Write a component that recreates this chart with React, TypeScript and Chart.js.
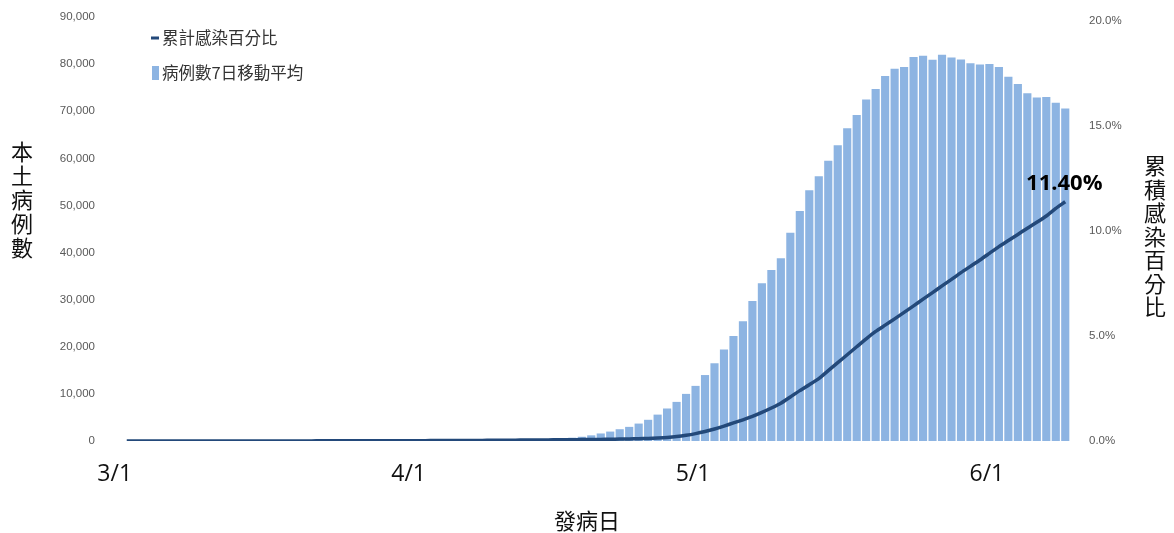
import React, { useEffect, useRef } from 'react';
import { Chart, registerables } from 'chart.js';

Chart.register(...registerables);

// ---- data ----
const dates = [
  '3/1','3/2','3/3','3/4','3/5','3/6','3/7','3/8','3/9','3/10',
  '3/11','3/12','3/13','3/14','3/15','3/16','3/17','3/18','3/19','3/20',
  '3/21','3/22','3/23','3/24','3/25','3/26','3/27','3/28','3/29','3/30','3/31',
  '4/1','4/2','4/3','4/4','4/5','4/6','4/7','4/8','4/9','4/10',
  '4/11','4/12','4/13','4/14','4/15','4/16','4/17','4/18','4/19','4/20',
  '4/21','4/22','4/23','4/24','4/25','4/26','4/27','4/28','4/29','4/30',
  '5/1','5/2','5/3','5/4','5/5','5/6','5/7','5/8','5/9','5/10',
  '5/11','5/12','5/13','5/14','5/15','5/16','5/17','5/18','5/19','5/20',
  '5/21','5/22','5/23','5/24','5/25','5/26','5/27','5/28','5/29','5/30','5/31',
  '6/1','6/2','6/3','6/4','6/5','6/6','6/7','6/8',
];

// 病例數7日移動平均 (cases)
const casesMA7 = [
  3, 4, 4, 5, 5, 6, 6, 7, 8, 8,
  9, 10, 11, 12, 14, 15, 17, 19, 21, 24,
  27, 30, 34, 38, 42, 47, 52, 58, 65, 72,
  80, 90, 100, 112, 125, 140, 160, 185, 215, 250,
  280, 310, 340, 370, 400, 500, 600, 700, 900, 1200,
  1600, 2000, 2500, 3000, 3700, 4500, 5600, 6900, 8300, 10000,
  11700, 14000, 16500, 19400, 22300, 25400, 29700, 33500, 36300, 38800,
  44200, 48800, 53200, 56200, 59500, 62800, 66400, 69200, 72500, 74700,
  77500, 79000, 79400, 81500, 81800, 80900, 82000, 81400, 81000, 80200,
  79900, 80000, 79400, 77300, 75800, 73800, 72900, 73000, 71800, 70600,
];

// 累計感染百分比 (%)
const cumulativePct = [
  0.000, 0.000, 0.000, 0.001, 0.001, 0.001, 0.001, 0.001, 0.001, 0.002,
  0.002, 0.002, 0.002, 0.003, 0.003, 0.003, 0.004, 0.004, 0.005, 0.005,
  0.006, 0.006, 0.007, 0.008, 0.009, 0.010, 0.011, 0.012, 0.013, 0.014,
  0.015, 0.017, 0.018, 0.020, 0.022, 0.024, 0.026, 0.028, 0.031, 0.034,
  0.037, 0.040, 0.044, 0.048, 0.052, 0.055, 0.058, 0.062, 0.066, 0.070,
  0.075, 0.082, 0.090, 0.100, 0.110, 0.125, 0.145, 0.170, 0.210, 0.270,
  0.350, 0.450, 0.570, 0.710, 0.860, 1.010, 1.170, 1.360, 1.570, 1.800,
  2.100, 2.400, 2.680, 2.970, 3.350, 3.730, 4.110, 4.490, 4.870, 5.220,
  5.520, 5.820, 6.130, 6.440, 6.760, 7.070, 7.390, 7.700, 8.020, 8.320,
  8.620, 8.940, 9.260, 9.550, 9.840, 10.140, 10.420, 10.720, 11.080, 11.400,
];

const leftTickValues = [0, 10000, 20000, 30000, 40000, 50000, 60000, 70000, 80000, 90000];
const rightTickValues = [0, 5, 10, 15, 20];
const xTickDates = ['3/1', '4/1', '5/1', '6/1'];
const lastValueLabel = '11.40%';

const lineLegend = '累計感染百分比';
const barLegend = '病例數7日移動平均';
const leftTitle = '本土病例數';
const rightTitle = '累積感染百分比';
const xTitle = '發病日';

const BAR_COLOR = '#8DB4E2';
const LINE_COLOR = '#23497A';
const CJK = '"Noto Sans CJK TC", "Noto Sans", sans-serif';

const overlayPlugin = {
  id: 'overlayTexts',
  afterDraw(chart: any) {
    const ctx = chart.ctx as CanvasRenderingContext2D;
    ctx.save();

    // legend
    ctx.fillStyle = LINE_COLOR;
    ctx.fillRect(151, 36.5, 8, 3);
    ctx.fillStyle = BAR_COLOR;
    ctx.fillRect(152, 66, 7, 14);
    ctx.fillStyle = '#333333';
    ctx.font = `16.5px ${CJK}`;
    ctx.textAlign = 'left';
    ctx.textBaseline = 'middle';
    ctx.fillText(lineLegend, 162, 38);
    ctx.fillText(barLegend, 162, 73);

    // vertical axis titles
    ctx.fillStyle = '#111111';
    ctx.font = `22px ${CJK}`;
    ctx.textAlign = 'center';
    ctx.textBaseline = 'middle';
    Array.from(leftTitle).forEach((ch, k) => ctx.fillText(ch, 22, 152 + k * 23.8));
    Array.from(rightTitle).forEach((ch, k) => ctx.fillText(ch, 1155, 166 + k * 23.5));

    // x title
    ctx.fillText(xTitle, 587, 521);

    // last value label
    const meta = chart.getDatasetMeta(1);
    const pt = meta.data[meta.data.length - 1];
    if (pt) {
      ctx.font = 'bold 22px "Open Sans", "DejaVu Sans", sans-serif';
      ctx.textBaseline = 'alphabetic';
      ctx.fillStyle = '#000000';
      ctx.fillText(lastValueLabel, pt.x - 1, pt.y - 12);
    }
    ctx.restore();
  },
};

export default function App() {
  const ref = useRef<HTMLCanvasElement | null>(null);

  useEffect(() => {
    document.body.style.margin = '0';
    document.body.style.overflow = 'hidden';
    const canvas = ref.current;
    if (!canvas) return;

    const tickFont = { family: '"Liberation Sans", Arial, sans-serif', size: 11.5 };

    const chart = new Chart(canvas, {
      type: 'bar',
      data: {
        labels: dates,
        datasets: [
          {
            type: 'bar',
            label: barLegend,
            data: casesMA7,
            backgroundColor: BAR_COLOR,
            borderWidth: 0,
            barPercentage: 0.86,
            categoryPercentage: 1,
            yAxisID: 'y',
            order: 2,
          },
          {
            type: 'line',
            label: lineLegend,
            data: cumulativePct,
            borderColor: LINE_COLOR,
            borderWidth: 3.5,
            pointRadius: 0,
            tension: 0.2,
            fill: false,
            yAxisID: 'y1',
            order: 1,
          } as any,
        ],
      },
      options: {
        responsive: false,
        animation: false,
        layout: { padding: { top: 17, left: 0, right: 0, bottom: 0 } },
        plugins: {
          legend: { display: false },
          tooltip: { enabled: false },
        },
        scales: {
          x: {
            grid: { display: false, drawTicks: false },
            border: { display: false },
            ticks: {
              autoSkip: false,
              maxRotation: 0,
              minRotation: 0,
              padding: 20,
              labelOffset: -12,
              color: '#111111',
              font: { family: '"Open Sans", "Noto Sans", sans-serif', size: 23 },
              callback: (_v: any, i: number) => (xTickDates.includes(dates[i]) ? dates[i] : ''),
            },
            afterFit: (s: any) => { s.height = 92; s.paddingLeft = 0; s.paddingRight = 0; },
          },
          y: {
            position: 'left',
            min: 0,
            max: 90000,
            grid: { display: false, drawTicks: false },
            border: { display: false },
            ticks: {
              padding: 27,
              color: '#595959',
              font: tickFont,
              callback: (v: any) => Number(v).toLocaleString('en-US'),
            },
            afterBuildTicks: (s: any) => { s.ticks = leftTickValues.map((v) => ({ value: v })); },
            afterFit: (s: any) => { s.width = 122; s.paddingTop = 0; s.paddingBottom = 0; },
          },
          y1: {
            position: 'right',
            min: 0,
            max: 20.2,
            grid: { display: false, drawTicks: false },
            border: { display: false },
            ticks: {
              padding: 19,
              color: '#595959',
              font: tickFont,
              callback: (v: any) => Number(v).toFixed(1) + '%',
            },
            afterBuildTicks: (s: any) => { s.ticks = rightTickValues.map((v) => ({ value: v })); },
            afterFit: (s: any) => { s.width = 104; s.paddingTop = 0; s.paddingBottom = 0; },
          },
        },
      },
      plugins: [overlayPlugin],
    });

    return () => chart.destroy();
  }, []);

  return (
    <div style={{ width: 1174, height: 533, background: '#ffffff' }}>
      <canvas ref={ref} width={1174} height={533} style={{ display: 'block' }} />
    </div>
  );
}
